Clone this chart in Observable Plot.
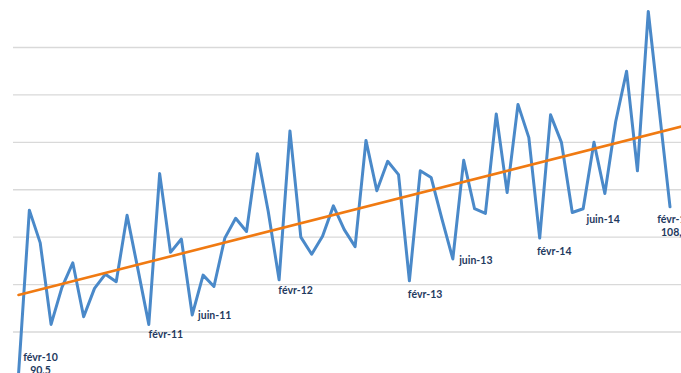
<!DOCTYPE html>
<html>
<head>
<meta charset="utf-8">
<script src="https://cdn.jsdelivr.net/npm/d3@7"></script>
<script src="https://cdn.jsdelivr.net/npm/@observablehq/plot@0.6"></script>
<style>
  html, body { margin: 0; padding: 0; background: #fff; }
  #chart svg { display: block; }
</style>
</head>
<body>
<div id="chart"></div>
<script>
// ---- Data ----
const monthNames = ["janv", "févr", "mars", "avr", "mai", "juin", "juil", "août", "sept", "oct", "nov", "déc"];
const firstMonth = 1;   // févr
const firstYear = 10;   // 2010
const values = [
  90.5, 107.85, 104.4, 95.8, 99.7, 102.3, 96.6, 99.6, 101.1, 100.3, 107.3, 101.6,
  95.8, 111.7, 103.4, 104.8, 96.8, 101.0, 99.8, 104.9, 107.0, 105.6, 113.8, 107.7,
  100.5, 116.2, 105.0, 103.2, 105.1, 108.3, 105.8, 104.0, 115.2, 109.9, 113.0, 111.6,
  100.4, 112.0, 111.3, 106.9, 102.7, 113.1, 108.0, 107.5, 118.0, 109.7, 119.0, 115.5,
  104.9, 117.9, 115.0, 107.6, 108.0, 115.0, 109.6, 117.2, 122.5, 112.0, 128.8, 118.5,
  108.2
];
const gridValues = [95, 100, 105, 110, 115, 120, 125];
const trendIndex = [0, 61.5];
const trendValues = [98.9, 116.8];
const labelMonths = ["févr-10", "févr-11", "juin-11", "févr-12", "févr-13", "juin-13", "févr-14", "juin-14", "févr-15"];
const labelValues = ["90,5", "", "", "", "", "", "", "", "108,2"];

// label placement (style, not data)
const labelOffsets = [[22, -11], [17, 10], [22.5, 0], [16.5, 10], [15.7, 12.7], [23, 0.7], [14.5, 12.7], [20, 10], [4.4, 18.7]];

// ---- Build tables ----
const months = values.map((_, i) => {
  const m = (firstMonth + i) % 12;
  const y = firstYear + Math.floor((firstMonth + i) / 12);
  return monthNames[m] + "-" + String(y).padStart(2, "0");
});
const series = values.map((v, i) => ({i, month: months[i], value: v}));
const trend = trendIndex.map((x, k) => ({i: x, value: trendValues[k]}));
const labels = labelMonths.map((m, k) => {
  const d = series.find(s => s.month === m);
  return {i: d.i, value: d.value, text: labelValues[k] ? m + "\n" + labelValues[k] : m, k};
});

const W = 681, H = 373;
const chart = Plot.plot({
  width: W,
  height: H,
  marginLeft: 13,
  marginRight: 0,
  marginTop: 0,
  marginBottom: 0,
  x: {domain: [0, 60], range: [18, 669.5], axis: null},
  y: {domain: [95, 125], range: [331.5, 47], axis: null},
  style: {fontFamily: "Lato, 'Open Sans', sans-serif", background: "#fff"},
  marks: [
    Plot.ruleY(gridValues, {stroke: "#d9d9d9", strokeWidth: 1.4}),
    Plot.line(series, {x: "i", y: "value", stroke: "#4a89c9", strokeWidth: 3, strokeLinejoin: "round"}),
    Plot.line(trend, {x: "i", y: "value", stroke: "#f07a12", strokeWidth: 2.6}),
    ...labels.map(l => Plot.text([l], {
      x: "i", y: "value", text: "text",
      dx: labelOffsets[l.k][0], dy: labelOffsets[l.k][1],
      fill: "#1f3a60", fontWeight: "bold", fontSize: 10.5,
      lineHeight: 1.2, textAnchor: "middle", lineAnchor: "middle"
    }))
  ]
});
document.getElementById("chart").appendChild(chart);
</script>
</body>
</html>
